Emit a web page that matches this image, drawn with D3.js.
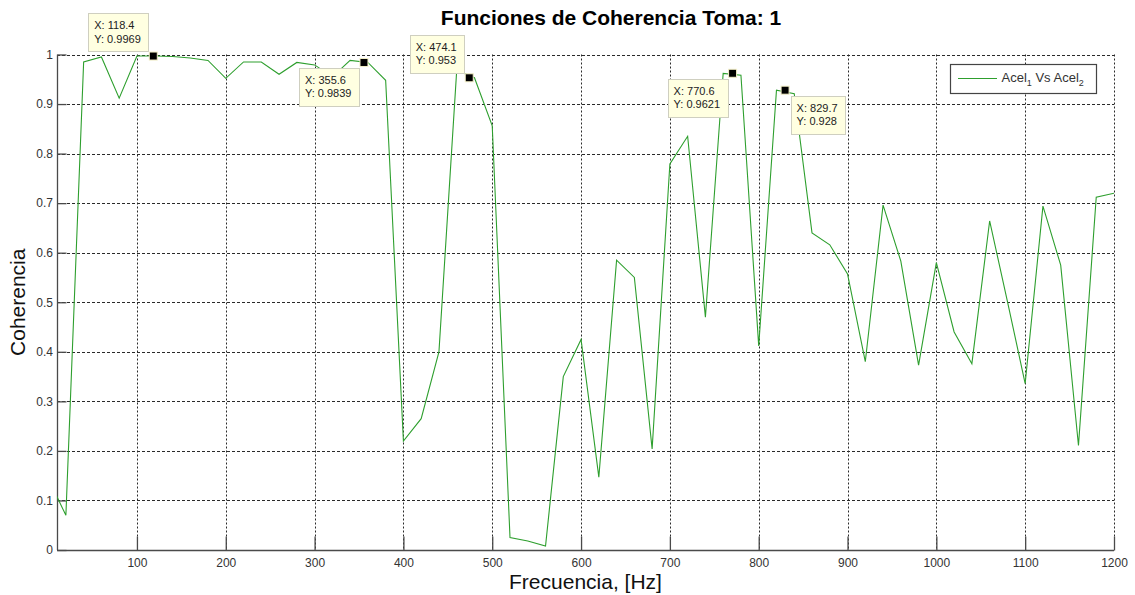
<!DOCTYPE html>
<html>
<head>
<meta charset="utf-8">
<script src="https://cdn.jsdelivr.net/npm/d3@7"></script>
<style>
  body { margin: 0; background: #fff; }
  svg { display: block; font-family: "Liberation Sans", Arial, Helvetica, sans-serif; }
</style>
</head>
<body>
<svg id="chart" width="1135" height="595"></svg>
<script>
// Frequency bins (Hz) of the coherence estimate
const frequencies = [
  0, 20, 40, 60, 80, 100, 120, 140, 160, 180,
  200, 220, 240, 260, 280, 300, 320, 340, 360, 380,
  400, 420, 440, 460, 480, 500, 520, 540, 560, 580,
  600, 620, 640, 660, 680, 700, 720, 740, 760, 780,
  800, 820, 840, 860, 880, 900, 920, 940, 960, 980,
  1000, 1020, 1040, 1060, 1080, 1100, 1120, 1140, 1160, 1180,
  1200
];

// Magnitude-squared coherence Acel1 vs Acel2
const coherence = [
  0.145, 0.070, 0.985, 0.995, 0.912, 0.997, 0.997, 0.996, 0.993, 0.988,
  0.952, 0.985, 0.985, 0.960, 0.984, 0.979, 0.955, 0.988, 0.984, 0.948,
  0.220, 0.265, 0.400, 0.968, 0.953, 0.856, 0.025, 0.018, 0.008, 0.350,
  0.425, 0.147, 0.585, 0.550, 0.204, 0.779, 0.835, 0.470, 0.962, 0.958,
  0.412, 0.928, 0.921, 0.640, 0.616, 0.557, 0.380, 0.696, 0.583, 0.373,
  0.580, 0.440, 0.376, 0.664, 0.502, 0.336, 0.694, 0.575, 0.211, 0.712,
  0.720
];

// Data cursors placed on the curve
const tipX = [118.4, 355.6, 474.1, 770.6, 829.7];
const tipY = [0.9969, 0.9839, 0.953, 0.9621, 0.928];
const tipPlacement = ["nw", "sw", "nw", "sw", "se"];

// Axis ticks
const xTicks = [100, 200, 300, 400, 500, 600, 700, 800, 900, 1000, 1100, 1200];
const yTicks = [0, 0.1, 0.2, 0.3, 0.4, 0.5, 0.6, 0.7, 0.8, 0.9, 1];
const yTickLabels = ["0", "0.1", "0.2", "0.3", "0.4", "0.5", "0.6", "0.7", "0.8", "0.9", "1"];

const titleText = "Funciones de Coherencia Toma: 1";
const xLabelText = "Frecuencia, [Hz]";
const yLabelText = "Coherencia";

// ---- layout ----
const svg = d3.select("#chart");
const plot = { left: 57, right: 1114, top: 54.5, bottom: 550 };
const lineColor = "#2e9f2e";
const axisColor = "#4a4a4a";
const gridColor = "#2a2a2a";

const x = d3.scaleLinear().domain([10, 1200]).range([plot.left, plot.right]);
const y = d3.scaleLinear().domain([0, 1]).range([plot.bottom, plot.top]);
const crisp = v => Math.round(v) + 0.5;

// clip region for the curve
svg.append("defs").append("clipPath").attr("id", "plot-clip")
  .append("rect")
  .attr("x", plot.left).attr("y", plot.top - 2)
  .attr("width", plot.right - plot.left).attr("height", plot.bottom - plot.top + 2);

// ---- grid ----
const grid = svg.append("g").attr("class", "grid");
grid.selectAll("line.v").data(xTicks).join("line")
  .attr("class", "v")
  .attr("x1", d => crisp(x(d))).attr("x2", d => crisp(x(d)))
  .attr("y1", plot.top).attr("y2", plot.bottom)
  .attr("stroke", gridColor).attr("stroke-width", 1)
  .attr("stroke-dasharray", "2,2");
grid.selectAll("line.h").data(yTicks.filter(d => d > 0)).join("line")
  .attr("class", "h")
  .attr("x1", plot.left).attr("x2", plot.right)
  .attr("y1", d => crisp(y(d))).attr("y2", d => crisp(y(d)))
  .attr("stroke", gridColor).attr("stroke-width", 1)
  .attr("stroke-dasharray", "3,2");

// ---- axes ----
const xAxis = d3.axisBottom(x).tickValues(xTicks).tickSize(-14).tickPadding(7.5)
  .tickFormat(d3.format("d"));
const yAxis = d3.axisLeft(y).tickValues(yTicks).tickSize(-9).tickPadding(4.5)
  .tickFormat((d, i) => yTickLabels[i]);

const gx = svg.append("g")
  .attr("transform", `translate(0,${crisp(plot.bottom)})`)
  .call(xAxis);
const gy = svg.append("g")
  .attr("transform", `translate(${crisp(plot.left)},0)`)
  .call(yAxis);

[gx, gy].forEach(g => {
  g.select(".domain").attr("stroke", axisColor).attr("stroke-width", 1.3);
  g.selectAll(".tick line").attr("stroke", axisColor).attr("stroke-width", 1.3);
  g.selectAll(".tick text").attr("fill", "#333").attr("font-size", 12)
    .attr("font-family", "'Liberation Sans', Arial, sans-serif");
});
gx.select(".domain").attr("d", `M${plot.left},0H${plot.right}`);
gy.select(".domain").attr("d", `M0,${plot.bottom}V${plot.top}`);

// ---- coherence curve ----
const points = frequencies.map((f, i) => [f, coherence[i]]);
svg.append("path")
  .datum(points)
  .attr("clip-path", "url(#plot-clip)")
  .attr("fill", "none")
  .attr("stroke", lineColor)
  .attr("stroke-width", 1.1)
  .attr("stroke-linejoin", "miter")
  .attr("d", d3.line().x(d => x(d[0])).y(d => y(d[1])));

// ---- data cursors ----
const tips = tipX.map((v, i) => ({ fx: v, fy: tipY[i], place: tipPlacement[i] }));
const gap = 5.5, boxH = 37.5, padX = 6;
const tipGroup = svg.append("g").attr("class", "datatips");

tips.forEach(t => {
  const cx = x(t.fx), cy = y(t.fy);
  const g = tipGroup.append("g");
  const rect = g.append("rect")
    .attr("fill", "#ffffe1").attr("stroke", "#cfcfc0").attr("stroke-width", 1);
  const l1 = g.append("text").text(`X: ${t.fx}`)
    .attr("font-size", 11).attr("fill", "#222");
  const l2 = g.append("text").text(`Y: ${t.fy}`)
    .attr("font-size", 11).attr("fill", "#222");
  const w = Math.max(l1.node().getComputedTextLength(), l2.node().getComputedTextLength()) + 2 * padX + 1;
  const left = t.place.endsWith("w") ? cx - gap - w : cx + gap;
  const top = t.place.startsWith("n") ? cy - gap - boxH : cy + gap;
  rect.attr("x", crisp(left)).attr("y", crisp(top)).attr("width", Math.round(w)).attr("height", Math.round(boxH));
  l1.attr("x", left + padX).attr("y", top + 16);
  l2.attr("x", left + padX).attr("y", top + 29.5);

  g.append("rect")
    .attr("x", cx - 4).attr("y", cy - 4).attr("width", 8).attr("height", 8)
    .attr("fill", "#000").attr("stroke", "#f4f0c8").attr("stroke-width", 1);
});

// ---- legend ----
const legend = svg.append("g").attr("class", "legend");
legend.append("rect")
  .attr("x", 950.5).attr("y", 64.5).attr("width", 146).attr("height", 29)
  .attr("fill", "#fff").attr("stroke", "#444").attr("stroke-width", 1.2);
legend.append("line")
  .attr("x1", 958).attr("x2", 997).attr("y1", 78.5).attr("y2", 78.5)
  .attr("stroke", lineColor).attr("stroke-width", 1.1);
const lt = legend.append("text").attr("x", 1001.5).attr("y", 82)
  .attr("font-size", 13).attr("fill", "#333");
lt.append("tspan").text("Acel");
lt.append("tspan").text("1").attr("font-size", 9).attr("dy", 4);
lt.append("tspan").text(" Vs Acel").attr("dy", -4);
lt.append("tspan").text("2").attr("font-size", 9).attr("dy", 4);

// ---- titles ----
svg.append("text").text(titleText)
  .attr("x", 611).attr("y", 25).attr("text-anchor", "middle")
  .attr("font-size", 21).attr("font-weight", "bold").attr("fill", "#000");
svg.append("text").text(xLabelText)
  .attr("x", (plot.left + plot.right) / 2).attr("y", 589).attr("text-anchor", "middle")
  .attr("font-size", 21).attr("fill", "#111");
svg.append("text").text(yLabelText)
  .attr("transform", `translate(25,${(plot.top + plot.bottom) / 2}) rotate(-90)`)
  .attr("text-anchor", "middle")
  .attr("font-size", 21).attr("fill", "#111");
</script>
</body>
</html>
